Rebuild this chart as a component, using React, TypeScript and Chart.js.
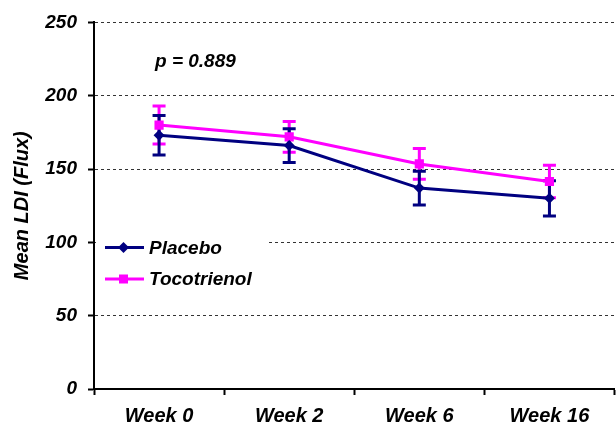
import React, { useEffect, useRef } from "react";
import { Chart, registerables } from "chart.js";

Chart.register(...registerables);

const categories = ["Week 0", "Week 2", "Week 6", "Week 16"];
const placeboMean = [173, 166, 137, 130];
const placeboErr = [13.5, 11.5, 11.5, 12];
const tocoMean = [180, 172, 153.5, 141.5];
const tocoErr = [13, 10.5, 10.5, 11];
const yTicks = [0, 50, 100, 150, 200, 250];
const pValueText = "p = 0.889";
const seriesNames = ["Placebo", "Tocotrienol"];
const yTitle = "Mean LDI (Flux)";

const NAVY = "#000080";
const MAGENTA = "#FF00FF";
const FONT = "'Liberation Sans', Arial, sans-serif";

function drawDiamond(ctx: CanvasRenderingContext2D, x: number, y: number, r: number, color: string) {
  ctx.beginPath();
  ctx.moveTo(x, y - r);
  ctx.lineTo(x + r, y);
  ctx.lineTo(x, y + r);
  ctx.lineTo(x - r, y);
  ctx.closePath();
  ctx.fillStyle = color;
  ctx.fill();
}

function drawSquare(ctx: CanvasRenderingContext2D, x: number, y: number, h: number, color: string) {
  ctx.fillStyle = color;
  ctx.fillRect(x - h, y - h, 2 * h, 2 * h);
}

const extrasPlugin = {
  id: "extras",
  beforeDatasetsDraw(chart: any) {
    const ctx = chart.ctx as CanvasRenderingContext2D;
    const xs = chart.scales.x;
    const ys = chart.scales.y;
    const sets = [
      { m: tocoMean, e: tocoErr, c: MAGENTA },
      { m: placeboMean, e: placeboErr, c: NAVY },
    ];
    ctx.save();
    for (const s of sets) {
      ctx.strokeStyle = s.c;
      ctx.lineWidth = 3;
      s.m.forEach((v, i) => {
        const x = xs.getPixelForValue(i);
        const yt = ys.getPixelForValue(v + s.e[i]);
        const yb = ys.getPixelForValue(v - s.e[i]);
        ctx.beginPath();
        ctx.moveTo(x, yt);
        ctx.lineTo(x, yb);
        ctx.moveTo(x - 6.5, yt);
        ctx.lineTo(x + 6.5, yt);
        ctx.moveTo(x - 6.5, yb);
        ctx.lineTo(x + 6.5, yb);
        ctx.stroke();
      });
    }
    ctx.restore();
  },
  afterDraw(chart: any) {
    const ctx = chart.ctx as CanvasRenderingContext2D;
    const ca = chart.chartArea;
    ctx.save();
    ctx.fillStyle = "#000";
    ctx.font = `italic bold 19px ${FONT}`;
    ctx.textAlign = "left";
    ctx.textBaseline = "alphabetic";
    ctx.fillText(pValueText, ca.left + 61, 67);
    const lx = ca.left + 2;
    ctx.fillStyle = "#fff";
    ctx.fillRect(lx, 232, 170, 62);
    const rows = [
      { y: 247.5, c: NAVY, diamond: true, base: 253.5 },
      { y: 279, c: MAGENTA, diamond: false, base: 285 },
    ];
    rows.forEach((r, i) => {
      ctx.strokeStyle = r.c;
      ctx.lineWidth = 3;
      ctx.beginPath();
      ctx.moveTo(105, r.y);
      ctx.lineTo(144, r.y);
      ctx.stroke();
      if (r.diamond) drawDiamond(ctx, 123.5, r.y, 5.5, r.c);
      else drawSquare(ctx, 123.5, r.y, 4.5, r.c);
      ctx.fillStyle = "#000";
      ctx.font = `italic bold 19px ${FONT}`;
      ctx.fillText(seriesNames[i], 149, r.base);
    });
    ctx.restore();
  },
};

export default function App() {
  const ref = useRef<HTMLCanvasElement | null>(null);
  useEffect(() => {
    document.body.style.margin = "0";
    const chart = new Chart(ref.current as HTMLCanvasElement, {
      type: "line",
      data: {
        labels: categories,
        datasets: [
          {
            label: seriesNames[0],
            data: placeboMean,
            borderColor: NAVY,
            backgroundColor: NAVY,
            borderWidth: 3,
            pointStyle: "rectRot",
            pointRadius: 5.5,
            pointBorderWidth: 0,
            tension: 0,
          },
          {
            label: seriesNames[1],
            data: tocoMean,
            borderColor: MAGENTA,
            backgroundColor: MAGENTA,
            borderWidth: 3,
            pointStyle: "rect",
            pointRadius: 6.5,
            pointBorderWidth: 0,
            tension: 0,
          },
        ],
      },
      options: {
        animation: false,
        responsive: true,
        maintainAspectRatio: false,
        layout: { padding: { left: 0, top: 20, right: 2, bottom: 0 } },
        plugins: {
          legend: { display: false },
          tooltip: { enabled: false },
        },
        scales: {
          x: {
            type: "category",
            offset: true,
            grid: {
              offset: true,
              drawOnChartArea: false,
              drawTicks: true,
              tickLength: 6,
              tickColor: "#000",
              tickWidth: 2,
            },
            border: { display: true, color: "#000", width: 2 },
            ticks: {
              color: "#000",
              padding: 9,
              font: { family: FONT, size: 20, style: "italic", weight: "bold" },
            },
            afterFit(scale: any) {
              scale.height = 38;
              scale.paddingLeft = 0;
              scale.paddingRight = 0;
            },
          },
          y: {
            min: 0,
            max: 250,
            afterBuildTicks(scale: any) {
              scale.ticks = yTicks.map((v) => ({ value: v }));
            },
            grid: {
              color: "#333",
              lineWidth: 1,
              tickBorderDash: [],
              tickLength: 6,
              tickColor: "#000",
              tickWidth: 2,
            },
            border: { display: true, color: "#000", width: 2, dash: [3, 3] },
            ticks: {
              color: "#000",
              padding: 11,
              font: { family: FONT, size: 19, style: "italic", weight: "bold" },
            },
            title: {
              display: true,
              text: yTitle,
              color: "#000",
              padding: { top: 10, bottom: 0 },
              font: { family: FONT, size: 20, style: "italic", weight: "bold" },
            },
            afterFit(scale: any) {
              scale.width = 94;
            },
          },
        },
      },
      plugins: [extrasPlugin],
    } as any);
    return () => chart.destroy();
  }, []);
  return (
    <div style={{ position: "fixed", left: 0, top: 0, width: 621, height: 427 }}>
      <canvas ref={ref} />
    </div>
  );
}
